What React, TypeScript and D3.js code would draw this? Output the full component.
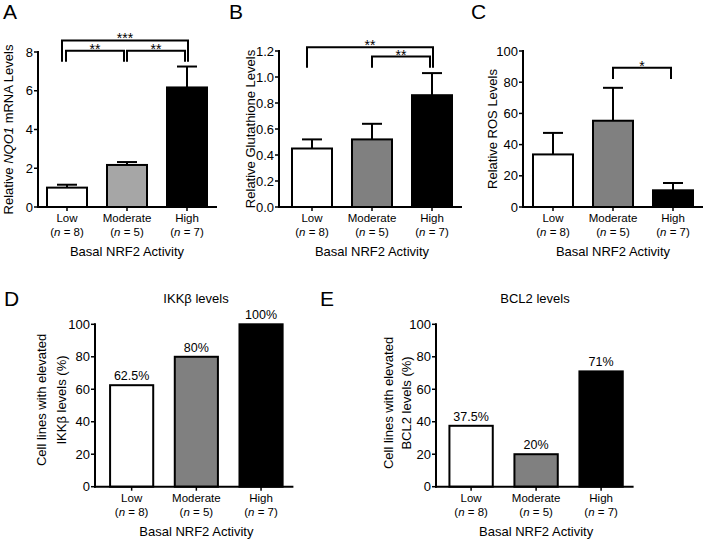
import React from "react";
import * as d3 from "d3";

const categories = ["Low", "Moderate", "High"];
const nValues = [8, 5, 7];

const nqo1Means = [1.0, 2.17, 6.17];
const nqo1Sem = [0.15, 0.15, 1.08];

const glutMeans = [0.45, 0.52, 0.86];
const glutSem = [0.07, 0.12, 0.17];

const rosMeans = [33.7, 55.3, 10.7];
const rosSem = [13.8, 21.1, 4.7];

const ikkbPct = [62.5, 80, 100];
const bcl2Pct = [37.5, 20, 71];

const nqo1Ticks = [0, 2, 4, 6, 8];
const glutTicks = [0, 0.2, 0.4, 0.6, 0.8, 1.0, 1.2];
const pctTicks = [0, 20, 40, 60, 80, 100];

// significance brackets: [from, to, level, legBottom, label]
const nqo1Sig: [string, string, number, number, string][] = [
  ["Low", "High", 8.6, 7.5, "***"],
  ["Low", "Moderate", 8.06, 7.5, "**"],
  ["Moderate", "High", 8.06, 7.5, "**"],
];
const glutSig: [string, string, number, number, string][] = [
  ["Low", "High", 1.229, 1.072, "**"],
  ["Moderate", "High", 1.157, 1.072, "**"],
];
const rosSig: [string, string, number, number, string][] = [
  ["Moderate", "High", 89.3, 82, "*"],
];

const FONT = "Liberation Sans, Arial, Helvetica, sans-serif";

type PanelProps = {
  letter: string;
  letterX: number;
  letterY: number;
  title?: string;
  titleX?: number;
  titleY?: number;
  values: number[];
  sems?: number[];
  pctLabels?: boolean;
  colors: string[];
  axisX: number;
  rangeStart: number;
  step: number;
  yTop: number;
  yBottom: number;
  yMax: number;
  ticks: number[];
  tickFmt: (v: number) => string;
  yLabel: React.ReactNode[];
  yLabelXs: number[];
  yLabelY?: number;
  sig?: [string, string, number, number, string][];
};

function Panel(p: PanelProps) {
  const x = d3
    .scaleBand<string>()
    .domain(categories)
    .range([p.rangeStart, p.rangeStart + p.step * 3])
    .paddingInner(1 / 3)
    .paddingOuter(1 / 6);
  const y = d3.scaleLinear().domain([0, p.yMax]).range([p.yBottom, p.yTop]);
  const bw = x.bandwidth();
  const axisEnd = p.rangeStart + p.step * 3;
  const midC = (x("Moderate") as number) + bw / 2;
  const yMid = p.yLabelY ?? (p.yTop + p.yBottom) / 2;

  return (
    <g fontFamily={FONT}>
      <text x={p.letterX} y={p.letterY} fontSize={21}>
        {p.letter}
      </text>
      {p.title && (
        <text x={p.titleX} y={p.titleY} fontSize={13} textAnchor="middle">
          {p.title}
        </text>
      )}
      {categories.map((c, i) => {
        const x0 = x(c) as number;
        const top = y(p.values[i]);
        return (
          <g key={c}>
            <rect
              x={x0}
              y={top}
              width={bw}
              height={p.yBottom - top}
              fill={p.colors[i]}
              stroke="#000"
              strokeWidth={2}
            />
            {p.sems && (
              <g stroke="#000" strokeWidth={2}>
                <line
                  x1={x0 + bw / 2}
                  x2={x0 + bw / 2}
                  y1={top}
                  y2={y(p.values[i] + p.sems[i])}
                />
                <line
                  x1={x0 + bw / 4}
                  x2={x0 + (3 * bw) / 4}
                  y1={y(p.values[i] + p.sems[i])}
                  y2={y(p.values[i] + p.sems[i])}
                />
              </g>
            )}
            {p.pctLabels && (
              <text
                x={x0 + bw / 2}
                y={top - 5}
                fontSize={12.5}
                textAnchor="middle"
              >
                {p.values[i]}%
              </text>
            )}
          </g>
        );
      })}
      <line
        x1={p.axisX}
        x2={p.axisX}
        y1={p.yTop - 1}
        y2={p.yBottom + 1}
        stroke="#000"
        strokeWidth={2}
      />
      {p.ticks.map((t) => (
        <g key={t}>
          <line
            x1={p.axisX - 4}
            x2={p.axisX}
            y1={y(t)}
            y2={y(t)}
            stroke="#000"
            strokeWidth={1.5}
          />
          <text
            x={p.axisX - 5}
            y={y(t)}
            dy="0.36em"
            fontSize={13}
            textAnchor="end"
          >
            {p.tickFmt(t)}
          </text>
        </g>
      ))}
      <line
        x1={p.axisX - 1}
        x2={axisEnd}
        y1={p.yBottom}
        y2={p.yBottom}
        stroke="#000"
        strokeWidth={2}
      />
      {categories.map((c, i) => {
        const cx = (x(c) as number) + bw / 2;
        return (
          <g key={c}>
            <line
              x1={cx}
              x2={cx}
              y1={p.yBottom}
              y2={p.yBottom + 4}
              stroke="#000"
              strokeWidth={1.5}
            />
            <text x={cx} y={p.yBottom + 15} fontSize={11.5} textAnchor="middle">
              {c}
            </text>
            <text x={cx} y={p.yBottom + 29} fontSize={11.5} textAnchor="middle">
              (<tspan fontStyle="italic">n</tspan> = {nValues[i]})
            </text>
          </g>
        );
      })}
      <text x={midC} y={p.yBottom + 49} fontSize={13} textAnchor="middle">
        Basal NRF2 Activity
      </text>
      {p.yLabel.map((lab, k) => (
        <text
          key={k}
          transform={`translate(${p.yLabelXs[k]},${yMid}) rotate(-90)`}
          fontSize={13}
          textAnchor="middle"
        >
          {lab}
        </text>
      ))}
      {p.sig &&
        p.sig.map(([a, b, lvl, leg, lab], k) => {
          const outer = k === 0 && p.sig!.length > 1;
          const xa =
            (x(a) as number) + bw / 2 + (outer ? -5 : a === "Low" ? -1 : 0);
          const xb =
            (x(b) as number) + bw / 2 + (outer ? 1 : b === "High" ? -2 : -3);
          const yl = y(lvl);
          const yb = y(leg);
          return (
            <g key={k}>
              <path
                d={`M${xa},${yb}V${yl}H${xb}V${yb}`}
                fill="none"
                stroke="#000"
                strokeWidth={2}
              />
              <text
                x={(xa + xb) / 2}
                y={yl + 3}
                fontSize={14}
                textAnchor="middle"
              >
                {lab}
              </text>
            </g>
          );
        })}
    </g>
  );
}

export default function App() {
  const fmt0 = (v: number) => d3.format("d")(v);
  const fmt1 = (v: number) => d3.format(".1f")(v);
  return (
    <svg
      width={704}
      height={543}
      style={{ position: "absolute", left: 0, top: 0, background: "#fff" }}
    >
      <rect width={704} height={543} fill="#fff" />
      <Panel
        letter="A"
        letterX={3}
        letterY={19}
        values={nqo1Means}
        sems={nqo1Sem}
        colors={["#fff", "#a6a6a6", "#000"]}
        axisX={38}
        rangeStart={37}
        step={60}
        yTop={52}
        yBottom={207}
        yMax={8}
        ticks={nqo1Ticks}
        tickFmt={fmt0}
        yLabel={[
          <>
            Relative <tspan fontStyle="italic">NQO1</tspan> mRNA Levels
          </>,
        ]}
        yLabelXs={[13]}
        sig={nqo1Sig}
      />
      <Panel
        letter="B"
        letterX={229}
        letterY={19}
        values={glutMeans}
        sems={glutSem}
        colors={["#fff", "#808080", "#000"]}
        axisX={279}
        rangeStart={282}
        step={60}
        yTop={51}
        yBottom={207}
        yMax={1.2}
        ticks={glutTicks}
        tickFmt={fmt1}
        yLabel={["Relative Glutathione Levels"]}
        yLabelXs={[255]}
        sig={glutSig}
      />
      <Panel
        letter="C"
        letterX={471}
        letterY={19}
        values={rosMeans}
        sems={rosSem}
        colors={["#fff", "#808080", "#000"]}
        axisX={523}
        rangeStart={523}
        step={60}
        yTop={51}
        yBottom={207}
        yMax={100}
        ticks={pctTicks}
        tickFmt={fmt0}
        yLabel={["Relative ROS Levels"]}
        yLabelXs={[497]}
        sig={rosSig}
      />
      <Panel
        letter="D"
        letterX={4}
        letterY={306}
        title="IKKβ levels"
        titleX={196}
        titleY={303}
        values={ikkbPct}
        pctLabels
        colors={["#fff", "#808080", "#000"]}
        axisX={95}
        rangeStart={99.3}
        step={64.7}
        yTop={324.3}
        yBottom={486.7}
        yMax={100}
        ticks={pctTicks}
        tickFmt={fmt0}
        yLabel={["Cell lines with elevated", "IKKβ levels (%)"]}
        yLabelXs={[46, 66]}
        yLabelY={400}
      />
      <Panel
        letter="E"
        letterX={320}
        letterY={306}
        title="BCL2 levels"
        titleX={535}
        titleY={303}
        values={bcl2Pct}
        pctLabels
        colors={["#fff", "#808080", "#000"]}
        axisX={436}
        rangeStart={438.6}
        step={65}
        yTop={324.3}
        yBottom={486.7}
        yMax={100}
        ticks={pctTicks}
        tickFmt={fmt0}
        yLabel={["Cell lines with elevated", "BCL2 levels (%)"]}
        yLabelXs={[393, 411]}
        yLabelY={403}
      />
    </svg>
  );
}
